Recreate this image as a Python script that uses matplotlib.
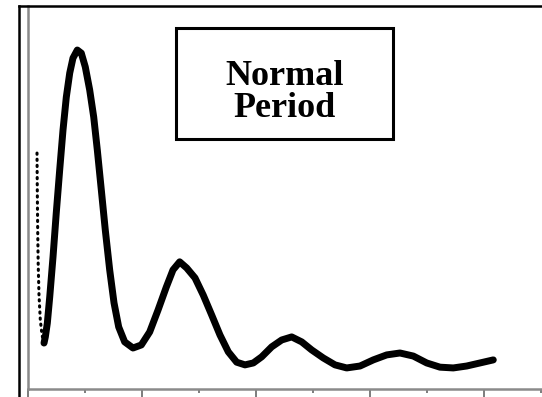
import matplotlib
matplotlib.use("Agg")
import matplotlib.pyplot as plt
from matplotlib.lines import Line2D
from matplotlib.patches import Rectangle

# sparse first drop (dotted part)
start_x = [0.158, 0.163, 0.170, 0.179, 0.193, 0.216, 0.246, 0.281]
start_y = [61.6, 51.9, 41.5, 32.4, 24.5, 18.0, 14.1, 12.0]

# dense damped oscillation
wave_x = [0.281, 0.304, 0.339, 0.381, 0.439, 0.496, 0.556, 0.614, 0.672,
          0.732, 0.789, 0.865, 0.935, 1.005, 1.082, 1.153, 1.216, 1.286,
          1.356, 1.433, 1.509, 1.591, 1.696, 1.842, 1.988, 2.135, 2.281,
          2.426, 2.544, 2.661, 2.784, 2.930, 3.075, 3.223, 3.368, 3.514,
          3.661, 3.807, 3.953, 4.100, 4.275, 4.451, 4.626, 4.802, 4.977,
          5.181, 5.386, 5.591, 5.825, 6.058, 6.293, 6.526, 6.760, 6.995,
          7.228, 7.461, 7.696, 7.930, 8.163]
wave_y = [12.0, 13.6, 17.2, 24.0, 34.5, 46.0, 57.2, 67.6, 76.2,
          82.5, 86.4, 88.5, 87.7, 84.1, 78.1, 71.0, 62.4, 52.0,
          41.5, 31.1, 22.5, 16.2, 12.3, 10.7, 11.5, 14.9, 20.6,
          26.6, 31.1, 33.2, 31.6, 29.0, 24.5, 19.3, 14.1, 9.7,
          7.0, 6.3, 6.8, 8.4, 11.0, 12.8, 13.6, 12.3, 10.2,
          8.1, 6.3, 5.5, 6.0, 7.6, 8.9, 9.4, 8.6, 6.8,
          5.7, 5.5, 6.0, 6.8, 7.6]

major_ticks = [0, 2, 4, 6, 8]
minor_ticks = [1, 3, 5, 7, 9]

W, H = 542, 397
fig = plt.figure(figsize=(W / 100, H / 100), dpi=100)
fig.patch.set_facecolor("white")

ax = fig.add_axes([28 / W, 8 / H, (W - 28) / W, 383 / H])
ax.set_xlim(0, (W - 28) / 57)
ax.set_ylim(0, 100)

ax.plot(start_x, start_y, color="black", linewidth=2.2,
        linestyle=(0, (0.4, 1.6)), dash_capstyle="round")
ax.plot(wave_x, wave_y, color="black", linewidth=5,
        solid_joinstyle="round", solid_capstyle="round")

# axes look
for s in ["top", "right"]:
    ax.spines[s].set_visible(False)
for s in ["left", "bottom"]:
    ax.spines[s].set_color("#8a8a8a")
    ax.spines[s].set_linewidth(1.8)
ax.set_yticks([])
ax.set_xticks(major_ticks)
ax.set_xticks(minor_ticks, minor=True)
ax.set_xticklabels([])
ax.tick_params(axis="x", which="major", direction="out", length=6,
               width=1.2, color="#666666")
ax.tick_params(axis="x", which="minor", direction="out", length=3,
               width=1.2, color="#666666")

# outer frame (left and top edges)
fig.add_artist(Line2D([19 / W, 19 / W], [0, 1 - 6 / H], color="black",
                      linewidth=1.8, transform=fig.transFigure))
fig.add_artist(Line2D([19 / W, 1], [1 - 6 / H, 1 - 6 / H], color="black",
                      linewidth=1.8, transform=fig.transFigure))

# label box
fig.add_artist(Rectangle((176 / W, 1 - 139 / H), 217 / W, 111 / H,
                         transform=fig.transFigure, facecolor="white",
                         edgecolor="black", linewidth=2.2))
fig.text(284.5 / W, 1 - 85 / H, "Normal", ha="center", va="baseline",
         fontsize=26, fontweight="bold", family="Liberation Serif")
fig.text(284.5 / W, 1 - 117 / H, "Period", ha="center", va="baseline",
         fontsize=26, fontweight="bold", family="Liberation Serif")

fig.savefig("out.png", dpi=100)
